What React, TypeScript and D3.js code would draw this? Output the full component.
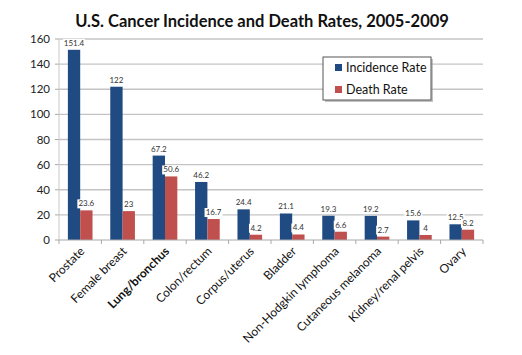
import React from "react";
import * as d3 from "d3";

const categories = [
  "Prostate",
  "Female breast",
  "Lung/bronchus",
  "Colon/rectum",
  "Corpus/uterus",
  "Bladder",
  "Non-Hodgkin lymphoma",
  "Cutaneous melanoma",
  "Kidney/renal pelvis",
  "Ovary",
];
const incidence = [151.4, 122, 67.2, 46.2, 24.4, 21.1, 19.3, 19.2, 15.6, 12.5];
const death = [23.6, 23, 50.6, 16.7, 4.2, 4.4, 6.6, 2.7, 4, 8.2];
const yTicks = [0, 20, 40, 60, 80, 100, 120, 140, 160];
const seriesNames = ["Incidence Rate", "Death Rate"];
const boldCategory = "Lung/bronchus";

const W = 522;
const H = 355;
const left = 59;
const right = 483;
const top = 39;
const bottom = 240;
const colors = ["#1F4A82", "#C0504D"];
const FONT = "Lato, 'Open Sans', sans-serif";

export default function App() {
  const x = d3.scaleBand<string>().domain(categories).range([left, right]).paddingInner(0).paddingOuter(0);
  const y = d3.scaleLinear().domain([0, 160]).range([bottom, top]);
  const inner = d3
    .scaleBand<string>()
    .domain(["0", "1"])
    .range([0, x.bandwidth()])
    .paddingInner(0)
    .paddingOuter(0.72);
  const series = [incidence, death];

  return (
    <svg
      width={W}
      height={H}
      style={{ position: "fixed", left: 0, top: 0, background: "#fff" }}
      fontFamily={FONT}
    >
      <rect width={W} height={H} fill="#fff" />
      <text x={262} y={27} textAnchor="middle" fontSize={16.5} fontWeight="bold" fill="#111">
        U.S. Cancer Incidence and Death Rates, 2005-2009
      </text>
      {/* gridlines and y axis */}
      {yTicks.map((t) => (
        <g key={t}>
          {t > 0 && (
            <line x1={left} x2={right} y1={y(t)} y2={y(t)} stroke="#C4C4C4" strokeWidth={1.3} />
          )}
          <line x1={left - 4} x2={left} y1={y(t)} y2={y(t)} stroke="#A8A8A8" strokeWidth={1} />
          <text x={50} y={y(t) + 4} textAnchor="end" fontSize={11.5} fill="#222">
            {t}
          </text>
        </g>
      ))}
      <line x1={left} x2={left} y1={top} y2={bottom} stroke="#C8C8C8" strokeWidth={1} />
      {/* bars */}
      {categories.map((c, i) => (
        <g key={c}>
          {series.map((s, k) => {
            const bx = (x(c) as number) + (inner(String(k)) as number);
            const bw = inner.bandwidth();
            return (
              <rect key={k} x={bx} y={y(s[i])} width={bw} height={bottom - y(s[i])} fill={colors[k]} />
            );
          })}
        </g>
      ))}
      {/* x axis */}
      <line x1={left} x2={right} y1={bottom} y2={bottom} stroke="#A8A8A8" strokeWidth={1.2} />
      {d3.range(categories.length + 1).map((i) => {
        const xx = left + i * x.step();
        return <line key={i} x1={xx} x2={xx} y1={bottom} y2={bottom + 4} stroke="#A8A8A8" strokeWidth={1} />;
      })}
      {/* data labels */}
      {categories.map((c, i) => (
        <g key={"l" + c}>
          {series.map((s, k) => {
            const cx = (x(c) as number) + (inner(String(k)) as number) + inner.bandwidth() / 2;
            const label = String(s[i]);
            const ly = y(s[i]) - 4;
            const tw = label.length * 4 + 2;
            return (
              <g key={k}>
                <rect x={cx - tw / 2} y={ly - 7} width={tw} height={9} fill="#fff" />
                <text x={cx} y={ly} textAnchor="middle" fontSize={8} fill="#333">
                  {label}
                </text>
              </g>
            );
          })}
        </g>
      ))}
      {/* x labels */}
      {categories.map((c) => {
        const cx = (x(c) as number) + x.bandwidth() / 2 + 5;
        const cy = 252;
        return (
          <text
            key={"x" + c}
            transform={`translate(${cx},${cy}) rotate(-45)`}
            textAnchor="end"
            fontSize={12}
            fontWeight={c === boldCategory ? "bold" : "normal"}
            fill="#111"
          >
            {c}
          </text>
        );
      })}
      {/* legend */}
      <rect x={325} y={59} width={108} height={43} fill="#9a9a9a" opacity={0.6} />
      <rect x={323} y={57} width={108} height={43} fill="#fff" stroke="#555" strokeWidth={1} />
      {seriesNames.map((n, k) => (
        <g key={n}>
          <rect x={335} y={64 + k * 22} width={7} height={7} fill={colors[k]} />
          <text x={346} y={71.5 + k * 22} fontSize={12.5} fill="#111">
            {n}
          </text>
        </g>
      ))}
    </svg>
  );
}
